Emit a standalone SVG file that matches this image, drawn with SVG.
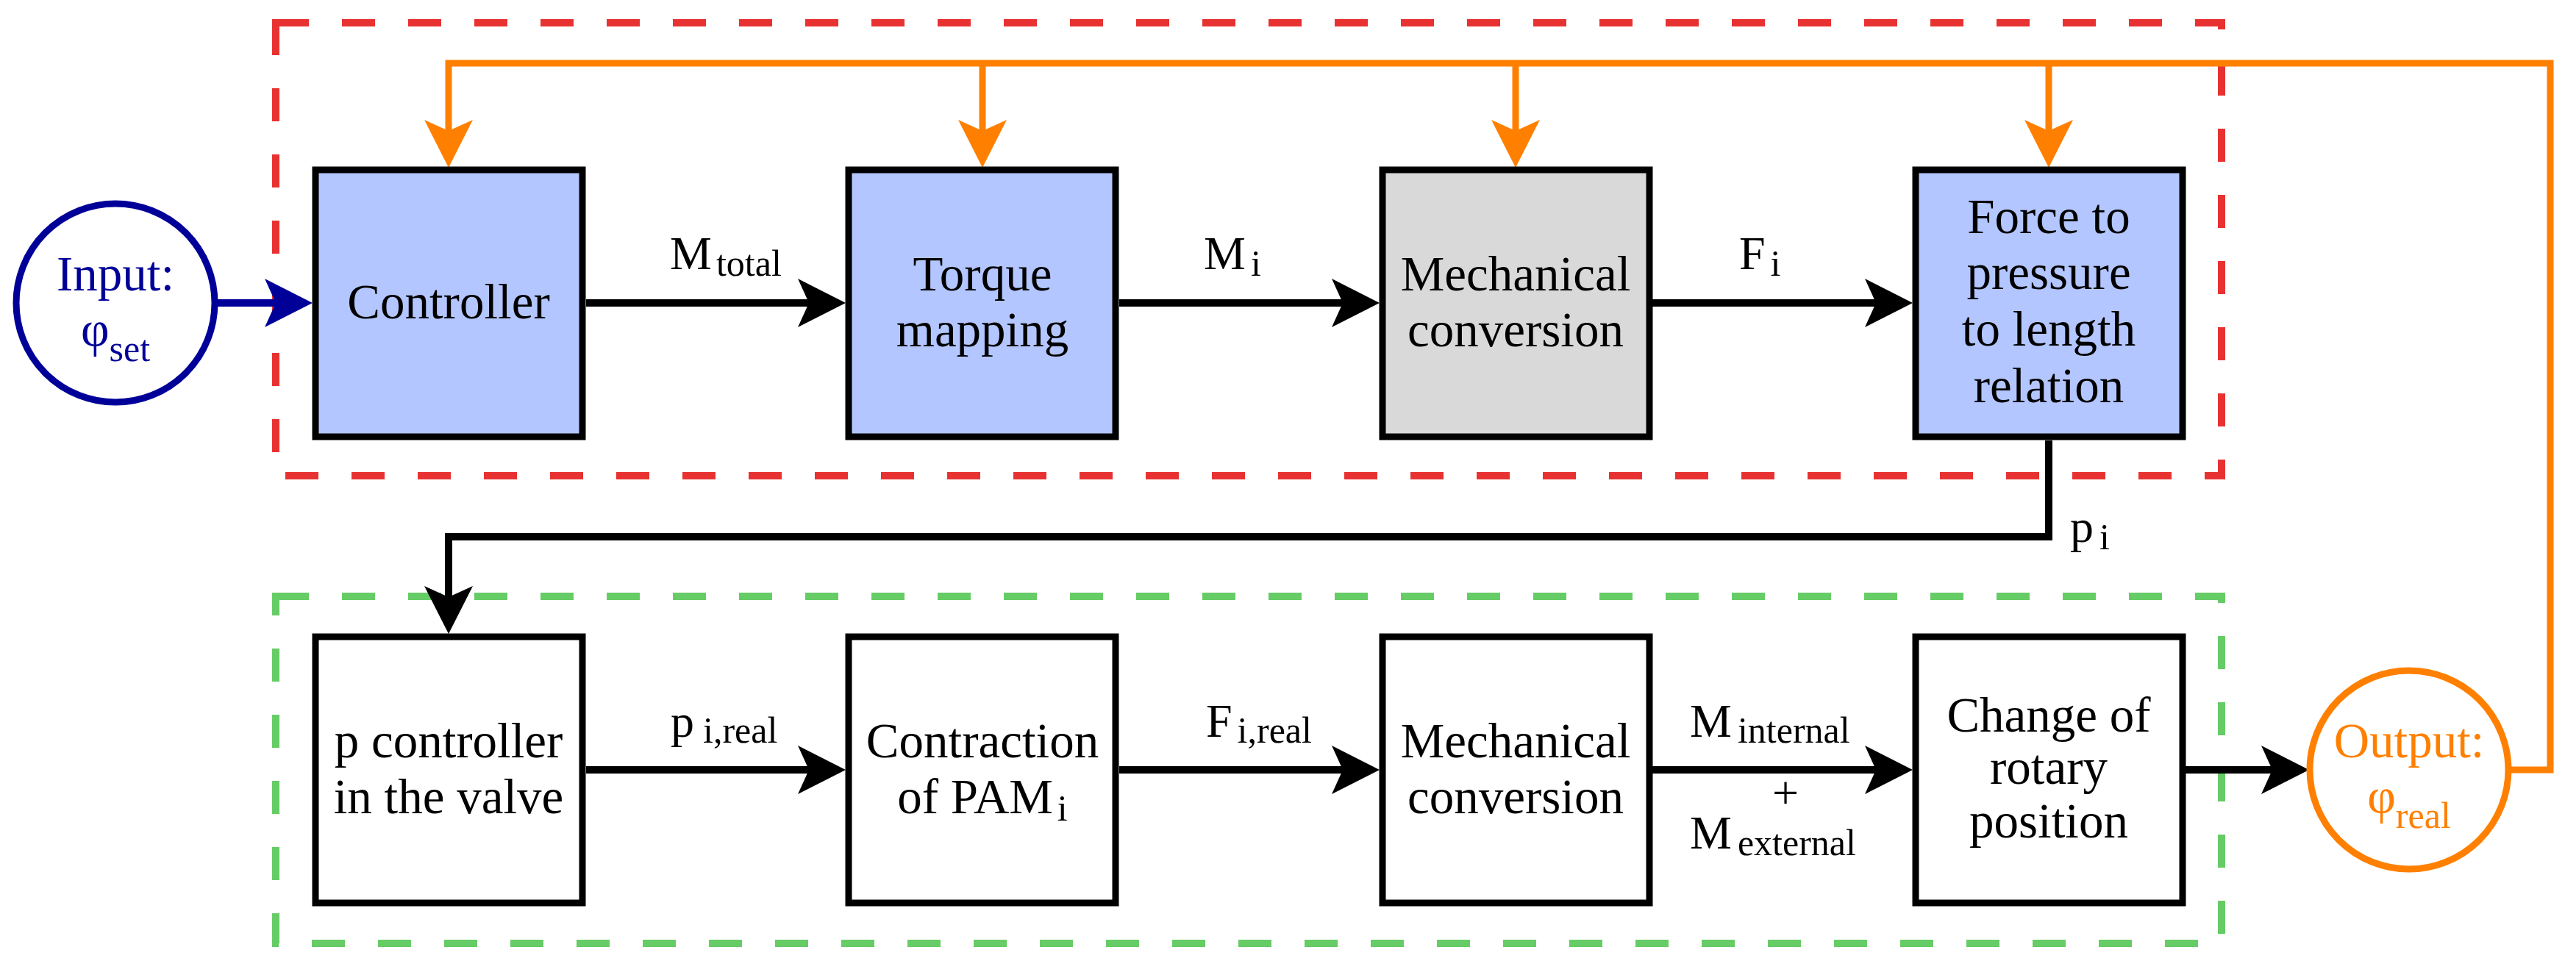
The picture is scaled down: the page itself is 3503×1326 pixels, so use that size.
<svg xmlns="http://www.w3.org/2000/svg" width="3503" height="1326" viewBox="0 0 3503 1326">
<style>
.box{stroke:#000;stroke-width:9}
.blue{fill:#b3c6ff}.gray{fill:#d9d9d9}.white{fill:#fff}
.t{font-family:'Liberation Serif','Times New Roman',serif;font-size:67px;text-anchor:middle;fill:#000}
.lbl{font-family:'Liberation Serif','Times New Roman',serif;font-size:64px;fill:#000}
.sub{font-size:50px}
.conn{fill:none;stroke:#000;stroke-width:10}
.fb{fill:none;stroke:#ff8000;stroke-width:9}
.frame{fill:none;stroke-width:10;stroke-dasharray:45 45}
</style>
<defs>
<marker id="ahK" markerUnits="userSpaceOnUse" viewBox="-66 -34 67 68" markerWidth="67" markerHeight="68" refX="-20" refY="0" orient="auto"><path d="M0,0 L-65,-33 L-50,0 L-65,33 Z" fill="#000"/></marker>
<marker id="ahO" markerUnits="userSpaceOnUse" viewBox="-66 -34 67 68" markerWidth="67" markerHeight="68" refX="-20" refY="0" orient="auto"><path d="M0,0 L-65,-33 L-50,0 L-65,33 Z" fill="#ff8000"/></marker>
<marker id="ahB" markerUnits="userSpaceOnUse" viewBox="-66 -34 67 68" markerWidth="67" markerHeight="68" refX="-20" refY="0" orient="auto"><path d="M0,0 L-65,-33 L-50,0 L-65,33 Z" fill="#000099"/></marker>
</defs>
<rect width="3503" height="1326" fill="#fff"/>
<g id="frames">
<rect class="frame" x="375" y="31" width="2646" height="616" stroke="#e83232"/>
<rect class="frame" x="375" y="811" width="2646" height="472" stroke="#66cc66"/>
</g>
<g id="connectors">
<path class="fb" d="M3408,1047 H3468 V86 H610 V208" marker-end="url(#ahO)"/>
<path class="fb" d="M1336,86 V208" marker-end="url(#ahO)"/>
<path class="fb" d="M2061,86 V208" marker-end="url(#ahO)"/>
<path class="fb" d="M2786,86 V208" marker-end="url(#ahO)"/>
<path d="M292,412 H405" fill="none" stroke="#000099" stroke-width="10" marker-end="url(#ahB)"/>
<path class="conn" d="M797,412 H1130" marker-end="url(#ahK)"/>
<path class="conn" d="M1522,412 H1856" marker-end="url(#ahK)"/>
<path class="conn" d="M2247,412 H2581" marker-end="url(#ahK)"/>
<path class="conn" d="M2786,599 V730 H610 V842" marker-end="url(#ahK)"/>
<path class="conn" d="M797,1047 H1130" marker-end="url(#ahK)"/>
<path class="conn" d="M1522,1047 H1856" marker-end="url(#ahK)"/>
<path class="conn" d="M2247,1047 H2581" marker-end="url(#ahK)"/>
<path class="conn" d="M2972,1047 H3120" marker-end="url(#ahK)"/>
<text class="lbl" x="911" y="366">M<tspan class="sub" dx="6" dy="9">total</tspan></text>
<text class="lbl" x="1637" y="366">M<tspan class="sub" dx="7" dy="9">i</tspan></text>
<text class="lbl" x="2365" y="366">F<tspan class="sub" dx="7" dy="9">i</tspan></text>
<text class="lbl" x="2815" y="737">p<tspan class="sub" dx="8" dy="10">i</tspan></text>
<text class="lbl" x="912" y="1002">p<tspan class="sub" dx="12" dy="8">i,real</tspan></text>
<text class="lbl" x="1640" y="1002">F<tspan class="sub" dx="7" dy="8">i,real</tspan></text>
<text class="lbl" x="2298" y="1002">M<tspan class="sub" dx="8" dy="8">internal</tspan></text>
<text class="lbl" x="2428" y="1100" text-anchor="middle">+</text>
<text class="lbl" x="2298" y="1154">M<tspan class="sub" dx="8" dy="9">external</tspan></text>
</g>
<g id="input">
<circle cx="157" cy="412" r="135" fill="#fff" stroke="#000099" stroke-width="9"/>
<text class="t" x="157" y="395" style="fill:#000099">Input:</text>
<text class="t" x="157" y="471" style="fill:#000099">φ<tspan class="sub" dy="20">set</tspan></text>
</g>
<g id="controller">
<rect class="box blue" x="429" y="231" width="363" height="363"/>
<text class="t" x="610" y="433">Controller</text>
</g>
<g id="torque-mapping">
<rect class="box blue" x="1154" y="231" width="363" height="363"/>
<text class="t" x="1336" y="395">Torque</text>
<text class="t" x="1336" y="471">mapping</text>
</g>
<g id="mechanical-conversion-1">
<rect class="box gray" x="1880" y="231" width="363" height="363"/>
<text class="t" x="2061" y="395">Mechanical</text>
<text class="t" x="2061" y="471">conversion</text>
</g>
<g id="force-pressure-length">
<rect class="box blue" x="2605" y="231" width="363" height="363"/>
<text class="t" x="2786" y="317">Force to</text>
<text class="t" x="2786" y="393">pressure</text>
<text class="t" x="2786" y="470">to length</text>
<text class="t" x="2786" y="547">relation</text>
</g>
<g id="p-controller">
<rect class="box white" x="429" y="866" width="363" height="362"/>
<text class="t" x="610" y="1030">p controller</text>
<text class="t" x="610" y="1106">in the valve</text>
</g>
<g id="contraction">
<rect class="box white" x="1154" y="866" width="363" height="362"/>
<text class="t" x="1336" y="1030">Contraction</text>
<text class="t" x="1336" y="1106">of PAM<tspan class="sub" dx="6" dy="10">i</tspan></text>
</g>
<g id="mechanical-conversion-2">
<rect class="box white" x="1880" y="866" width="363" height="362"/>
<text class="t" x="2061" y="1030">Mechanical</text>
<text class="t" x="2061" y="1106">conversion</text>
</g>
<g id="change-rotary">
<rect class="box white" x="2605" y="866" width="363" height="362"/>
<text class="t" x="2786" y="995">Change of</text>
<text class="t" x="2786" y="1066">rotary</text>
<text class="t" x="2786" y="1139">position</text>
</g>
<g id="output">
<circle cx="3276" cy="1047" r="135" fill="#fff" stroke="#ff8000" stroke-width="9"/>
<text class="t" x="3276" y="1030" style="fill:#ff8000">Output:</text>
<text class="t" x="3276" y="1106" style="fill:#ff8000">φ<tspan class="sub" dy="20">real</tspan></text>
</g>
</svg>
